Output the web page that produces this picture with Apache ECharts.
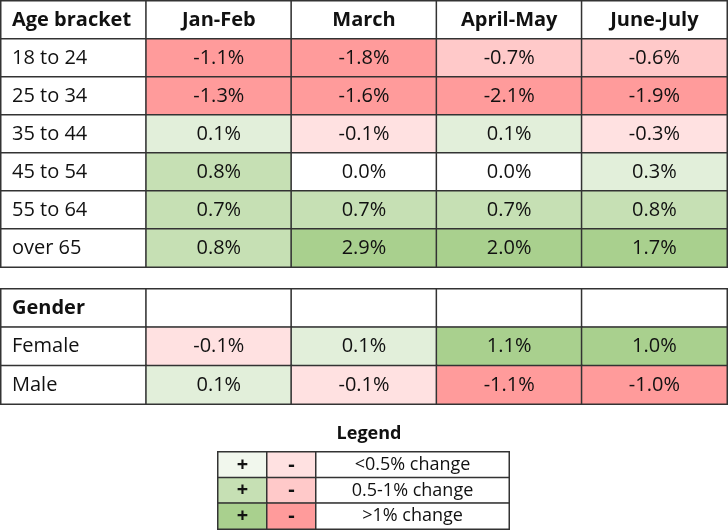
<!DOCTYPE html>
<html>
<head>
<meta charset="utf-8">
<script src="https://cdn.jsdelivr.net/npm/echarts@6/dist/echarts.min.js"></script>
<style>html,body{margin:0;padding:0;background:#fff}#c{width:728px;height:531px}</style>
</head>
<body>
<div id="c"></div>
<script>
// ---- data ----
const periods = ['Jan-Feb', 'March', 'April-May', 'June-July'];
const ageHeader = 'Age bracket';
const ageRows = ['18 to 24', '25 to 34', '35 to 44', '45 to 54', '55 to 64', 'over 65'];
const ageValues = [
  [-1.1, -1.8, -0.7, -0.6],
  [-1.3, -1.6, -2.1, -1.9],
  [0.1, -0.1, 0.1, -0.3],
  [0.8, 0.0, 0.0, 0.3],
  [0.7, 0.7, 0.7, 0.8],
  [0.8, 2.9, 2.0, 1.7]
];
const genderHeader = 'Gender';
const genderRows = ['Female', 'Male'];
const genderValues = [
  [-0.1, 0.1, 1.1, 1.0],
  [0.1, -0.1, -1.1, -1.0]
];
const legendTitle = 'Legend';
const legendSigns = ['+', '-'];
const legendBands = ['<0.5% change', '0.5-1% change', '>1% change'];

// ---- styles ----
const FONT = 'Open Sans';
const BORDER = '#333333';
const TXT = '#111111';
const greens = ['#E2EFDA', '#C6E0B4', '#A9D08E'];
const reds = ['#FFE1E1', '#FFC9C9', '#FF9B9B'];
const legendGreens = ['#F1F7ED', '#C6E0B4', '#A9D08E'];

function cellColor(v) {
  if (v === 0) return '#ffffff';
  const a = Math.abs(v);
  const band = a < 0.5 ? 0 : (a < 1 ? 1 : 2);
  return v > 0 ? greens[band] : reds[band];
}
const fmt = v => v.toFixed(1) + '%';

function tableData(header, rows, values) {
  const d = [];
  d.push({ value: [0, 0, 0], name: header, itemStyle: { color: '#fff' },
    label: { position: 'insideLeft', distance: 12, fontWeight: 'bold' } });
  periods.forEach((p, j) => {
    d.push({ value: [j + 1, 0, 0], name: header === ageHeader ? p : '', itemStyle: { color: '#fff' },
      label: { fontWeight: 'bold' } });
  });
  rows.forEach((r, i) => {
    d.push({ value: [0, i + 1, 0], name: r, itemStyle: { color: '#fff' },
      label: { position: 'insideLeft', distance: 12 } });
    values[i].forEach((v, j) => {
      d.push({ value: [j + 1, i + 1, v], name: fmt(v), itemStyle: { color: cellColor(v) } });
    });
  });
  return d;
}

const cellStyle = { borderColor: BORDER, borderWidth: 1.5 };
const baseLabel = { show: true, formatter: '{b}', color: TXT, fontFamily: FONT, fontSize: 20 };

const xCats = ['label'].concat(periods);
const ageY = ['h'].concat(ageRows);
const genY = ['h'].concat(genderRows);

const legendSwatch = [];
legendBands.forEach((b, i) => {
  legendSwatch.push({ value: [0, i, 1], name: legendSigns[0], itemStyle: { color: legendGreens[i] } });
  legendSwatch.push({ value: [1, i, -1], name: legendSigns[1], itemStyle: { color: reds[i] } });
});
const legendText = legendBands.map((b, i) => ({ value: [0, i, 0], name: b, itemStyle: { color: '#fff' } }));

const hiddenCat = (data, gi, inverse) => ({ type: 'category', data: data, gridIndex: gi, show: false, inverse: !!inverse });

const option = {
  animation: false,
  title: {
    text: legendTitle, left: 364, textAlign: 'center', top: 420,
    textStyle: { fontFamily: FONT, fontSize: 18, fontWeight: 'bold', color: TXT }
  },
  grid: [
    { left: 1, top: 1, width: 726, height: 266 },
    { left: 1, top: 289, width: 726, height: 115 },
    { left: 218, top: 452, width: 98, height: 77 },
    { left: 316, top: 452, width: 193, height: 77 }
  ],
  xAxis: [
    hiddenCat(xCats, 0), hiddenCat(xCats, 1),
    hiddenCat(legendSigns, 2), hiddenCat(['t'], 3)
  ],
  yAxis: [
    hiddenCat(ageY, 0, true), hiddenCat(genY, 1, true),
    hiddenCat(legendBands, 2, true), hiddenCat(legendBands, 3, true)
  ],
  series: [
    { type: 'heatmap', xAxisIndex: 0, yAxisIndex: 0, data: tableData(ageHeader, ageRows, ageValues),
      itemStyle: cellStyle, label: baseLabel, emphasis: { disabled: true } },
    { type: 'heatmap', xAxisIndex: 1, yAxisIndex: 1, data: tableData(genderHeader, genderRows, genderValues),
      itemStyle: cellStyle, label: baseLabel, emphasis: { disabled: true } },
    { type: 'heatmap', xAxisIndex: 2, yAxisIndex: 2, data: legendSwatch,
      itemStyle: cellStyle, label: Object.assign({}, baseLabel, { fontSize: 20, fontWeight: 'bold' }), emphasis: { disabled: true } },
    { type: 'heatmap', xAxisIndex: 3, yAxisIndex: 3, data: legendText,
      itemStyle: cellStyle, label: Object.assign({}, baseLabel, { fontSize: 18 }), emphasis: { disabled: true } }
  ]
};
const chart = echarts.init(document.getElementById('c'), null, { renderer: 'canvas' });
chart.setOption(option);
</script>
</body>
</html>
